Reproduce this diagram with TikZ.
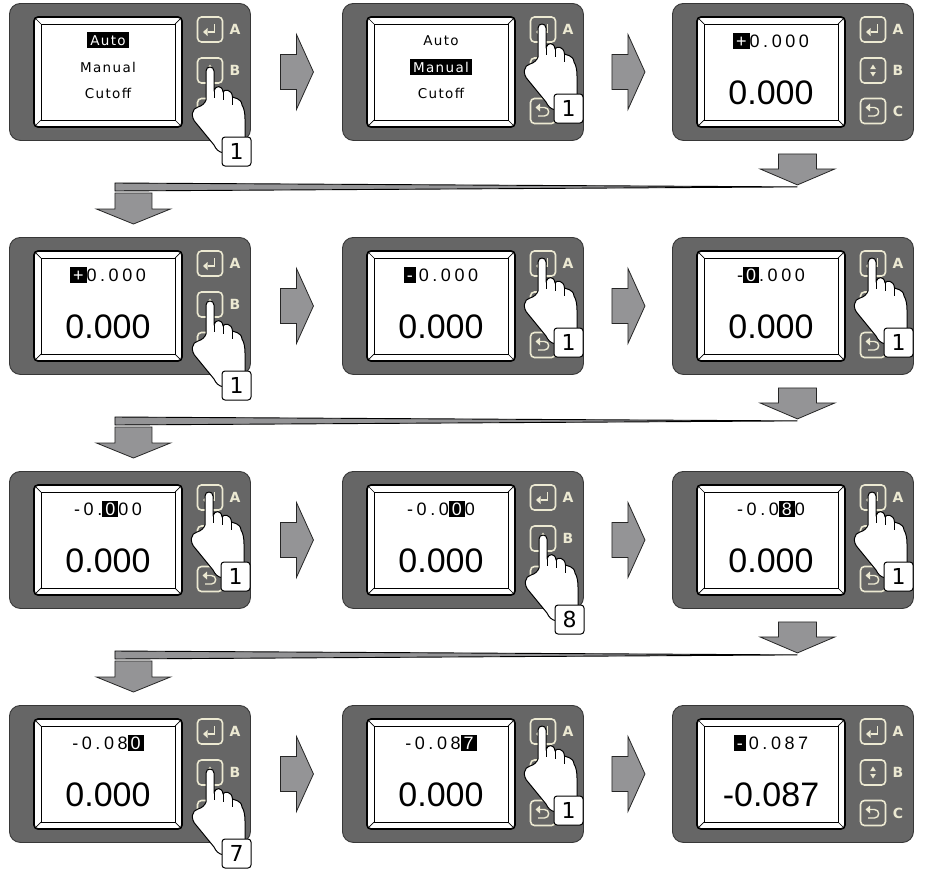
\documentclass[tikz,border=0pt]{standalone}
\usepackage{fontspec}
\setmainfont{DejaVu Sans}
\newfontfamily\menufont[LetterSpace=10]{DejaVu Sans}
\newfontfamily\numfont[LetterSpace=20]{Liberation Sans}
\newfontfamily\numplain{Liberation Sans}
\usetikzlibrary{calc}

\definecolor{bodygray}{RGB}{102,102,102}
\definecolor{bodyedge}{RGB}{55,55,55}
\definecolor{keycream}{RGB}{236,233,210}
\definecolor{arrowgray}{RGB}{148,148,150}

% highlighted (inverted) text in the menu and in the entry line
\newcommand\hlm[1]{{\setlength{\fboxsep}{3pt}\colorbox{black}{\textcolor{white}{#1}}}}
\newcommand\hln[1]{{\setlength{\fboxsep}{1.5pt}\colorbox{black}{\numplain\kern1.5pt\textcolor{white}{\vphantom{0}#1}\kern1.5pt}}}

\tikzset{
  body/.style={fill=bodygray, draw=bodyedge, line width=0.9pt, rounded corners=11pt,
    inner sep=0pt, minimum width=241pt, minimum height=137pt, anchor=north west},
  screenouter/.style={fill=white, draw=black, line width=1.7pt, rounded corners=4pt},
  screeninner/.style={draw=black, line width=0.7pt},
  bevel/.style={draw=black, line width=0.7pt},
  keybox/.style={draw=keycream, line width=1.6pt, rounded corners=4pt,
    minimum width=25pt, minimum height=25pt, inner sep=0pt},
  keyicon/.style={draw=keycream, line width=1.4pt},
  keytip/.style={fill=keycream},
  keylabel/.style={text=keycream, font=\fontsize{14}{14}\selectfont\bfseries, inner sep=0pt},
  menuline/.style={anchor=base, inner sep=0pt, font=\menufont\fontsize{13.5}{13.5}\selectfont},
  numline/.style={anchor=base, inner sep=0pt, font=\numfont\fontsize{18}{18}\selectfont},
  bignum/.style={anchor=base, inner sep=0pt, font=\numplain\fontsize{34}{34}\selectfont},
  handline/.style={draw=black, fill=white, line width=1pt, line join=round},
  crease/.style={draw=black, line width=0.9pt},
  countbox/.style={draw=black, fill=white, line width=1pt, rounded corners=3pt,
    minimum width=29pt, minimum height=29pt, inner sep=0pt, font=\fontsize{22}{22}\selectfont},
  blockarrow/.style={fill=arrowgray, draw=black!85, line width=0.8pt},
  wedge/.style={fill=arrowgray, draw=black, line width=0.9pt},
}

% pointing hand, fingertip at (#2,#3), with a press count box
\newcommand\hand[4]{%
  \begin{scope}[shift={(#2,#3)}]
    \draw[handline] (-4,33) -- (-4,4) .. controls (-4,-1.3) and (4,-1.3) .. (4,4) -- (4,24)
      .. controls (5,18) and (12.5,18) .. (13,25)
      .. controls (14,22) and (22,22) .. (22.5,30)
      .. controls (23.5,31) and (31.5,31) .. (32,38)
      .. controls (34,41) and (35,46) .. (35,52) -- (35,78) -- (14,86)
      .. controls (8,85) and (6,82) .. (4,78) -- (-14,56)
      .. controls (-20,50) and (-18,41) .. (-12,40)
      .. controls (-8,39) and (-5,36) .. (-4,33) -- cycle;
    \draw[crease] (4,24) -- (4,31) (13,25) -- (13,33) (22.5,30) -- (22.5,38);
    \node[countbox] (#1) at (26.5,84.5) {#4};
  \end{scope}}

% controller: body, screen, keys; #4 lists the key letters left in view, #5 is the screen content
\newcommand\device[5]{%
  \node[body] (#1) at (#2,#3) {};
  \begin{scope}[shift={(#1.north west)}]
    \draw[screenouter] (25,14) rectangle (173,124);
    \draw[screeninner] (32,21) rectangle (166,117);
    \draw[bevel] (26.5,15.5) -- (32,21) (171.5,15.5) -- (166,21)
      (26.5,122.5) -- (32,117) (171.5,122.5) -- (166,117);
    \node[keybox] (#1-ka) at (201,26.5) {};
    \node[keybox] (#1-kb) at (201,67.5) {};
    \node[keybox] (#1-kc) at (201,108) {};
    \begin{scope}[shift={(201,26.5)}]
      \draw[keyicon] (4.5,-5.5) -- (4.5,2.5) -- (-2.5,2.5);
      \fill[keytip] (-7,2.5) -- (-2.5,-1.5) -- (-2.5,6.5) -- cycle;
    \end{scope}
    \begin{scope}[shift={(201,67.5)}]
      \fill[keytip] (0,-6) -- (2.8,-1.5) -- (-2.8,-1.5) -- cycle;
      \fill[keytip] (0,6) -- (2.8,1.5) -- (-2.8,1.5) -- cycle;
    \end{scope}
    \begin{scope}[shift={(201,108)}]
      \draw[keyicon] (-3,-3.5) -- (1.5,-3.5) .. controls (7,-3.5) and (7,5) .. (1.5,5) -- (-5,5);
      \fill[keytip] (-7.5,-3.5) -- (-3,-7.5) -- (-3,0.5) -- cycle;
    \end{scope}
    \foreach \keyname/\keyy in {#4}{\node[keylabel] (#1-l\keyname) at (226,\keyy) {\keyname};}
    #5
  \end{scope}}

\newcommand\menuscreen[4]{%
  \node[menuline] (#1-t1) at (99,42) {#2};
  \node[menuline] (#1-t2) at (99,69) {#3};
  \node[menuline] (#1-t3) at (99,95) {#4};}

\newcommand\numscreen[3]{%
  \node[numline] (#1-t1) at (99,44) {#2};
  \node[bignum] (#1-t2) at (99,101) {#3};}

% block arrow between two neighbouring controllers
\newcommand\steparrow[2]{%
  \coordinate (#1-#2) at ($(#1.east)!0.5!(#2.west)$);
  \draw[blockarrow] ($(#1-#2)+(-16,-17.5)$) -- ++(16,0) -- ++(0,-20) -- ($(#1-#2)+(17,0)$)
    -- ($(#1-#2)+(0,37.5)$) -- ++(0,-20) -- ($(#1-#2)+(-16,17.5)$) -- cycle;}

% link from the end of one row to the start of the next
\newcommand\rowlink[2]{%
  \coordinate (#1-dn) at ($(#1.south)+(4.5,0)$);
  \coordinate (#2-up) at ($(#2.north)+(3.5,0)$);
  \draw[wedge] ($(#2-up)+(-18.5,-54)$) -- ($(#1-dn)+(0,46)$) -- ($(#2-up)+(-18.5,-46)$) -- cycle;
  \draw[blockarrow] ($(#1-dn)+(-19,13)$) -- ++(38,0) -- ++(0,15) -- ++(18.5,0)
    -- ($(#1-dn)+(0,44)$) -- ($(#1-dn)+(-37.5,28)$) -- ++(18.5,0) -- cycle;
  \draw[blockarrow] ($(#2-up)+(-18.5,-44)$) -- ++(37,0) -- ++(0,16) -- ++(18.5,0)
    -- ($(#2-up)+(0,-13)$) -- ($(#2-up)+(-37,-28)$) -- ++(18.5,0) -- cycle;}

\begin{document}
\begin{tikzpicture}[x=1pt,y=-1pt]
\fill[white] (0,0) rectangle (925,873);
\useasboundingbox (0,0) rectangle (925,873);

% row 1: mode selection
\device{p1}{9}{3}{A/26.5,B/67.5}{\menuscreen{p1}{\hlm{Auto}}{Manual}{Cutoff}\hand{p1-n}{201}{64}{1}}
\device{p2}{342}{3}{A/26.5}{\menuscreen{p2}{Auto}{\hlm{Manual}}{Cutoff}\hand{p2-n}{200}{21}{1}}
\device{p3}{672}{3}{A/26.5,B/67.5,C/108}{\numscreen{p3}{\hln{+}0.000}{0.000}}

% row 2: sign and integer digit
\device{p4}{9}{237}{A/26.5,B/67.5}{\numscreen{p4}{\hln{+}0.000}{0.000}\hand{p4-n}{201}{64}{1}}
\device{p5}{342}{237}{A/26.5}{\numscreen{p5}{\hln{-}\kern3pt0.000}{0.000}\hand{p5-n}{200}{21}{1}}
\device{p6}{672}{237}{A/26.5}{\numscreen{p6}{-\hln{0}.000}{0.000}\hand{p6-n}{200}{21}{1}}

% row 3: decimal digits
\device{p7}{9}{471}{A/26.5}{\numscreen{p7}{-0.\hln{0}00}{0.000}\hand{p7-n}{200}{21}{1}}
\device{p8}{342}{471}{A/26.5,B/67.5}{\numscreen{p8}{-0.0\hln{0}0}{0.000}\hand{p8-n}{201}{64}{8}}
\device{p9}{672}{471}{A/26.5}{\numscreen{p9}{-0.0\hln{8}0}{0.000}\hand{p9-n}{200}{21}{1}}

% row 4: last digit and result
\device{p10}{9}{705}{A/26.5,B/67.5}{\numscreen{p10}{-0.08\hln{0}}{0.000}\hand{p10-n}{201}{64}{7}}
\device{p11}{342}{705}{A/26.5}{\numscreen{p11}{-0.08\hln{7}}{0.000}\hand{p11-n}{200}{21}{1}}
\device{p12}{672}{705}{A/26.5,B/67.5,C/108}{\numscreen{p12}{\hln{-}\kern3pt0.087}{-0.087}}

\steparrow{p1}{p2}\steparrow{p2}{p3}
\steparrow{p4}{p5}\steparrow{p5}{p6}
\steparrow{p7}{p8}\steparrow{p8}{p9}
\steparrow{p10}{p11}\steparrow{p11}{p12}

\rowlink{p3}{p4}
\rowlink{p6}{p7}
\rowlink{p9}{p10}
\end{tikzpicture}
\end{document}
